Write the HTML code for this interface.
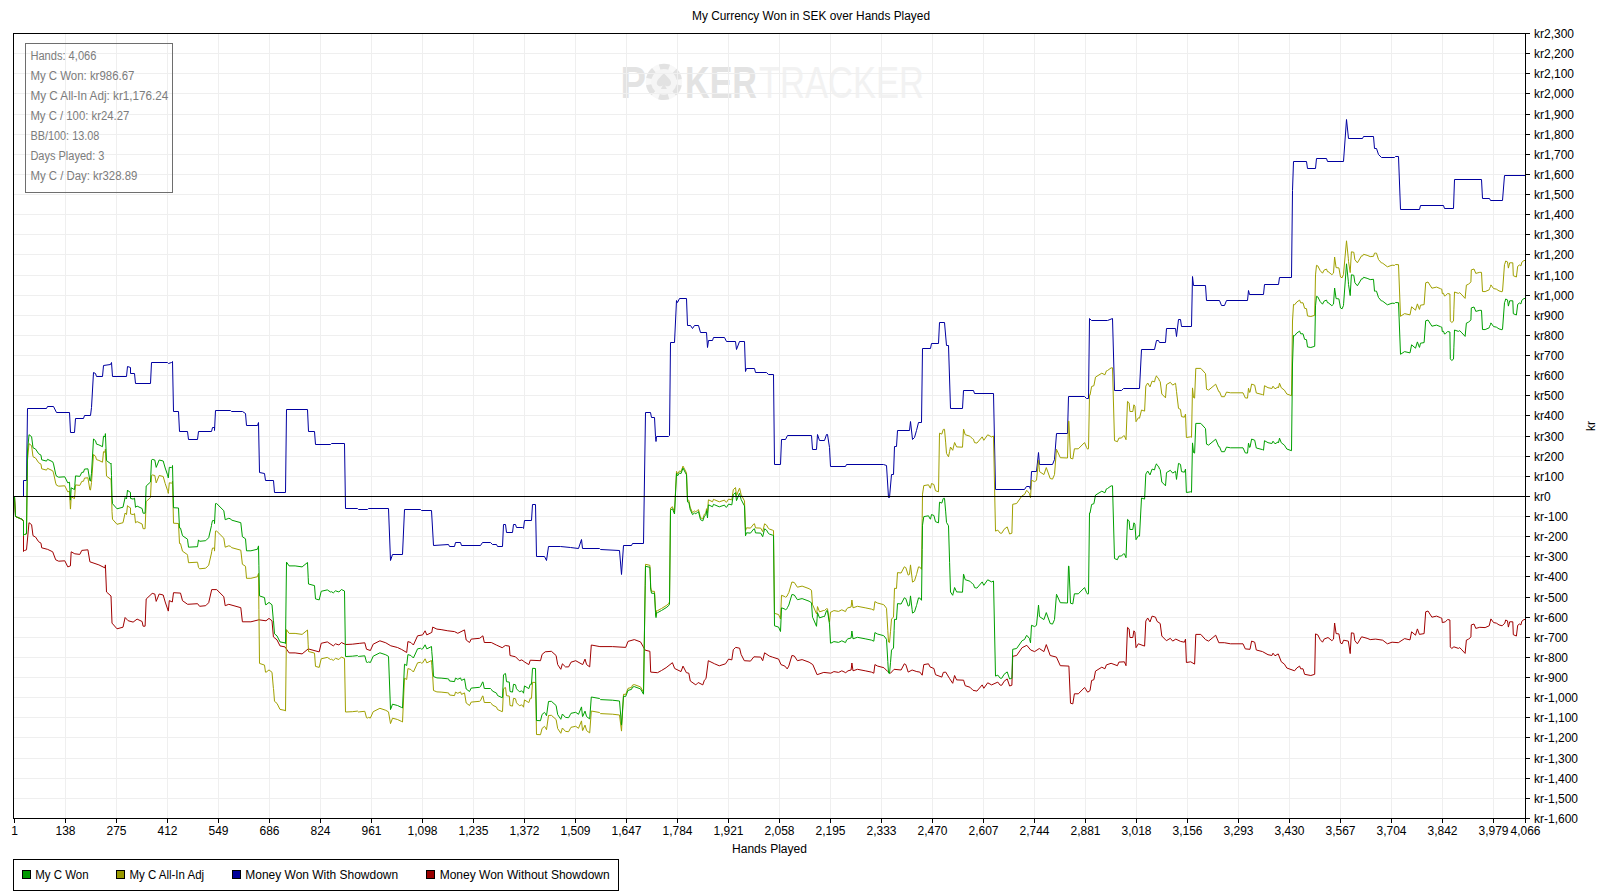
<!DOCTYPE html><html><head><meta charset="utf-8"><style>html,body{margin:0;padding:0;background:#fff;overflow:hidden}svg{display:block}</style></head><body><svg width="1597" height="896" viewBox="0 0 1597 896" shape-rendering="crispEdges">
<g shape-rendering="auto"><text x="620.5" y="98" font-family="Liberation Sans, sans-serif" font-weight="bold" font-size="43.5" fill="#e3e3e3" textLength="25.5" lengthAdjust="spacingAndGlyphs">P</text><text x="685" y="98" font-family="Liberation Sans, sans-serif" font-weight="bold" font-size="43.5" fill="#e3e3e3" textLength="72" lengthAdjust="spacingAndGlyphs">KER</text><g shape-rendering="auto"><circle cx="663.9" cy="81.9" r="15.5" fill="#f5f5f5" stroke="#f8f8f8" stroke-width="5.4"/><circle cx="663.9" cy="81.9" r="15.5" fill="none" stroke="#e2e2e2" stroke-width="5.4" stroke-dasharray="9.74 6.49" stroke-dashoffset="-3.25"/><path d="M663.9 72.9 C660.9 76.9 655.9 79.9 656.9 83.9 C657.9 86.9 661.9 86.9 662.9 84.9 L660.9 88.9 L666.9 88.9 L664.9 84.9 C665.9 86.9 669.9 86.9 670.9 83.9 C671.9 79.9 666.9 76.9 663.9 72.9Z" fill="#e2e2e2"/></g><text x="759" y="98" font-family="Liberation Sans, sans-serif" font-size="43.5" fill="#f2f2f2" textLength="165" lengthAdjust="spacingAndGlyphs">TRACKER</text></g>
<path d="M65.5 34V818M116.5 34V818M167.5 34V818M218.5 34V818M269.5 34V818M320.5 34V818M371.5 34V818M422.5 34V818M473.5 34V818M524.5 34V818M575.5 34V818M626.5 34V818M677.5 34V818M728.5 34V818M779.5 34V818M830.5 34V818M881.5 34V818M932.5 34V818M983.5 34V818M1034.5 34V818M1085.5 34V818M1136.5 34V818M1187.5 34V818M1238.5 34V818M1289.5 34V818M1340.5 34V818M1391.5 34V818M1442.5 34V818M1493.5 34V818M14 798.5H1525M14 778.5H1525M14 758.5H1525M14 737.5H1525M14 717.5H1525M14 697.5H1525M14 677.5H1525M14 657.5H1525M14 637.5H1525M14 617.5H1525M14 597.5H1525M14 576.5H1525M14 556.5H1525M14 536.5H1525M14 516.5H1525M14 476.5H1525M14 456.5H1525M14 436.5H1525M14 415.5H1525M14 395.5H1525M14 375.5H1525M14 355.5H1525M14 335.5H1525M14 315.5H1525M14 295.5H1525M14 275.5H1525M14 254.5H1525M14 234.5H1525M14 214.5H1525M14 194.5H1525M14 174.5H1525M14 154.5H1525M14 134.5H1525M14 114.5H1525M14 93.5H1525M14 73.5H1525M14 53.5H1525" stroke="#efefef" stroke-width="1" fill="none"/>
<rect x="25.5" y="43.5" width="147" height="149" fill="none" stroke="#6e6e6e" stroke-width="1"/>
<g font-family="Liberation Sans, sans-serif" font-size="12" fill="#7c7c7c" shape-rendering="auto"><text x="30.4" y="60" textLength="66" lengthAdjust="spacingAndGlyphs">Hands: 4,066</text><text x="30.4" y="80" textLength="104" lengthAdjust="spacingAndGlyphs">My C Won: kr986.67</text><text x="30.4" y="100" textLength="138" lengthAdjust="spacingAndGlyphs">My C All-In Adj: kr1,176.24</text><text x="30.4" y="120" textLength="99" lengthAdjust="spacingAndGlyphs">My C / 100: kr24.27</text><text x="30.4" y="140" textLength="69" lengthAdjust="spacingAndGlyphs">BB/100: 13.08</text><text x="30.4" y="160" textLength="74" lengthAdjust="spacingAndGlyphs">Days Played: 3</text><text x="30.4" y="180" textLength="107" lengthAdjust="spacingAndGlyphs">My C / Day: kr328.89</text></g>
<path d="M14.5,496.5 15.5,516.5 22.5,519.5 23.5,521.5 23.5,551.5 24.5,550.5 26.5,549.8 29,522.7 31.6,524.7 33,535.7 35.6,537.1 38.6,541.7 41,543.2 41.7,547.8 47.7,549.4 52.7,551.8 55.7,559.8 58.7,561.2 64.8,560.8 67.8,566.9 70.4,565.9 71.2,551.8 74.8,553.8 79.8,554.4 81.8,550.4 87.9,549.8 89.9,561.8 98.9,564.9 105,567.9 105.4,564.9 106.5,592 111,596 112,623.1 117,628.8 123,627.2 125.1,617.5 128.1,620.7 133.1,622.1 137.1,619.1 142.1,621.5 143.1,626.2 145.1,626.2 146.2,599 152.2,593.4 154.8,594 156.2,601.4 159.2,594 163.2,595 165.2,602 168.3,611.1 169.3,600.6 172.3,602 173.5,592.7 180.5,593.1 182.5,600.7 187.6,604.3 197.6,603.7 199.6,606.3 205.7,605.7 208.7,602.7 211.7,589.6 216.7,589.6 223.8,596.7 225.2,605.7 228.8,604.3 240.8,607.7 242.4,621.8 250.9,621.8 258.9,619.8 266,620.8 269,618.4 272,620.8 273.4,636.9 277,639.9 280,645.9 285,646.9 289.1,652.9 295.1,652.9 302.1,653.9 308.2,648.9 319.2,651.9 321.2,643.3 327.3,641.9 333.3,645.9 335.5,643.8 338.9,645 341.4,642.5 345.6,644.5 352.3,644.2 359.8,643.3 364.8,642.8 366.5,649.2 370.4,650.5 373.2,644.2 379.9,640.8 385.8,642.8 390.8,645.8 397.5,647.5 401.7,649.5 406.7,652.5 407.9,641.6 410.9,642.5 413.4,645 417.6,635.8 422.6,634.9 425.1,630.8 426.8,634.9 431.8,632.4 432.7,627.1 436.9,629.1 441.1,629.6 447.8,630.8 454.5,631.6 457.8,633.3 464.5,629.9 466.2,640 469.5,642.5 471.2,639.1 479.6,638.3 482.9,635.8 484.3,642.5 491.3,642.5 496.3,645 502.2,647.7 505.3,645.5 509.3,646.1 510,655.5 515.5,656.8 519.4,660.7 521.8,659.9 524.9,662.2 528.8,664.6 530.3,660.2 540.5,660.7 542.1,654.4 545.2,651.8 551.4,651.3 556.1,655.5 557.7,664.6 560.8,669.3 562.4,663.8 565.5,666.9 568.6,666.9 571,662.2 575.7,660.7 582.7,664.6 585,659.1 586.6,664.6 589.7,666.9 591.3,645 599.9,646.6 612.4,646.6 625.7,647.4 628,641.4 634.3,639.6 640.5,641.9 645.2,650.2 649.9,651.3 650.7,672.1 657.5,672.7 661.5,670.5 666.1,667.7 672.4,662.7 674.7,668.5 681,671.6 683,666.1 686.4,672.7 688.8,673.2 690.3,681 695.8,684.9 698.2,682.5 702.8,684.9 704.4,680.2 706,678.6 708.3,660.7 714.6,663.8 719.3,665.8 725.5,663.8 728.6,659.1 731.8,659.9 733.3,649.7 735.7,647.4 739.6,648.2 741.1,654.4 744.3,660.7 750.5,661.1 753.9,656.8 760.7,657.1 762.7,660.7 764.6,652.8 769.3,656 772.4,657.1 778.6,659.1 781,664.6 784.9,666.1 787.2,668.9 788.8,666.1 791.9,655.5 794.3,656 797.4,660.7 802.1,659.6 809.1,662.2 812.8,664.6 817.1,674.7 823.8,672.4 830.8,673.2 833.9,671.6 838.6,672.4 841.8,670.8 845.7,672.7 848,670.8 851.1,670 851.9,663 853,670.8 857.4,669.3 865.2,670.8 871.4,672.1 873.8,673.2 874.9,664.6 877.7,666.1 883.9,667.7 887.8,671.6 890.5,673.2 894.1,669.3 901.1,670 904.3,663.8 905.8,664.6 908.2,672.1 912.1,670 916.8,671.6 919.9,672.1 922.2,675.2 923.8,664.6 928.5,663.8 930,666.9 933.9,668.5 935.5,674.7 941.8,677.1 943.3,672.4 945.7,672.1 949.6,678.6 952.7,683.3 954.6,675.5 956.6,679.9 963.6,680.2 965.2,685.7 969.9,687.2 973,690.3 976.9,691.1 982.2,684.9 983.8,688.3 987.7,682.8 991.6,684.9 997.8,682.1 1000.2,685.2 1001.8,685.2 1004.1,681.3 1007.2,678.9 1009.6,686 1011.9,685.2 1012.7,656.3 1016.6,655.5 1022.1,647.7 1026.8,645.3 1030.7,650 1034.6,651.6 1039.3,648.5 1043.9,651.6 1046.3,644.6 1050.2,655.5 1056.4,657.1 1060.3,665.7 1068.9,666.1 1070.5,703.2 1072.8,703.9 1074.4,693.8 1078.3,693.8 1084.6,687.5 1087.7,692.2 1090,690.7 1091.6,680.5 1093.9,679.7 1095.5,671.1 1101.8,667.2 1104.9,668.8 1106.4,664.9 1111.1,663.3 1117.4,665.7 1118.9,662.1 1124.4,661.8 1126,665.7 1127.5,627.4 1129.1,628.9 1129.9,637.5 1132.8,637.5 1133.9,630.8 1134.9,632.1 1136,647.7 1138.3,643.8 1144.6,646.1 1145.8,621.1 1147.7,618 1150,621.9 1152.1,616.1 1155.5,617.2 1157.1,621.4 1160.2,623.5 1161.8,636 1166.4,640.7 1170.3,638.3 1172.7,641.1 1175.8,639.1 1180.5,641.4 1184.4,642.2 1185.5,639.1 1186.4,662.5 1190.7,661.8 1194.6,664.1 1195.8,634.4 1200.8,634.4 1205.5,639.6 1208.6,641.1 1215.7,635.2 1218.8,642.7 1224.3,642.7 1230.5,643.8 1243,643.8 1245.3,648.9 1250,649.3 1251.6,641.1 1254.7,642.2 1256.3,650 1262.5,651.6 1268,654.7 1271.9,655.5 1273,653.2 1275,655.8 1278.2,653.9 1281.3,661.8 1284.4,664.1 1286.8,668 1294.6,670.8 1296.8,668 1299.6,666.1 1300.7,668.8 1303,668.8 1304.6,674.3 1310.8,675.5 1314.7,674.3 1315.5,633.9 1317.8,634.9 1320.2,639.6 1322.5,642.2 1324.1,639.1 1328,637.5 1331.9,640.7 1333.5,639.1 1334.6,623 1336.1,633.6 1338.9,633.9 1340.5,643 1342.1,643.8 1343.6,640.2 1348.3,641.1 1350.2,653.6 1351.4,632.8 1353.8,633.3 1354.9,640.7 1357.4,643.8 1361.6,636.8 1367.1,638.3 1370.2,639.6 1375.7,639.1 1382.7,640.2 1387.4,643.8 1392.1,642.2 1398.3,642.7 1404.6,638.6 1410,639.9 1411.6,631.8 1415.5,635.2 1417.4,628.9 1419.4,634.4 1424.1,633.6 1425.7,611.8 1428,611 1431.9,617.2 1436.6,616.1 1440.5,617.7 1441.8,618.2 1442.3,622.6 1445.4,621.8 1447.6,619.5 1449.9,620 1450.3,646.8 1451.7,648.5 1453.9,646.8 1458.4,648.4 1459.7,647.6 1461.9,649.9 1465.1,653.4 1466.4,640.1 1468.6,639.2 1470.9,636.9 1471.3,624.9 1474,624 1475.8,628.4 1479.8,627.3 1485.1,627.6 1489.2,625.8 1490.9,618.9 1493.6,622.6 1496.3,623.1 1499,624.9 1502.1,625.8 1504.8,623.1 1505.7,620 1507.5,620.9 1508.4,627.1 1509.7,621.8 1512.8,621.8 1513.3,634.7 1516.4,636 1517.7,625.3 1519.5,624 1520.9,624.9 1521.8,621.3 1524,619.5 1525.5,619.5" stroke="#a00000" stroke-width="1" fill="none" stroke-linejoin="round" shape-rendering="auto"/>
<path d="M14.5,496.5 23.5,496.5 23.5,480.5 26.5,480.5 27.5,408.5 46.5,408.5 47.5,406.5 53.5,406.5 56.5,412.5 69.5,412.5 70.5,432.5 74.5,432.5 75.5,418.5 83.5,418.5 84.5,415.5 90.5,415.5 91.5,407.5 93.5,372.5 95.5,373.5 96.5,376.5 102.5,376.5 103.5,365.5 110.5,364.5 111.5,362.5 112.5,376.5 126.5,376.5 127.5,366.5 130.5,367.5 130.5,373.5 134.5,373.5 135.5,383.5 150.5,383.5 151.5,362.5 167.5,362.5 168.5,363.5 171.5,362.5 172.5,361.5 173.5,411.5 178.5,411.5 179.5,431.5 187.5,431.5 188.5,439.5 197.5,439.5 198.5,431.5 211.5,431.5 212.5,427.5 214.5,427.5 214.5,430.5 215.5,410.5 230.5,410.5 231.5,411.5 242.5,411.5 245.5,413.5 246.5,425.5 257.5,425.5 258.5,422.5 259.5,472.5 264.5,473.5 265.5,480.5 273.5,480.5 274.5,492.5 285.5,492.5 286.5,409.5 307.5,409.5 308.5,431.5 314.5,431.5 315.5,444.5 330.5,444.5 331.5,443.5 344.5,443.5 345.5,508.5 357.5,508.5 358.5,509.5 367.5,509.5 368.5,508.5 388.5,508.5 390.5,560.5 392.5,554.5 402.5,554.5 404.5,509.5 420.5,509.5 421.5,510.5 431.5,510.5 433.5,545.5 448.5,544.5 449.5,546.5 454.5,546.5 455.5,542.5 460.5,542.5 461.5,545.5 480.5,545.5 482.5,542.5 490.5,542.5 492.5,544.5 496.5,544.5 497.5,546.5 502.5,546.5 503.5,524.5 505.5,524.5 506.5,532.5 512.5,532.5 513.5,524.5 515.5,524.5 516.5,527.5 522.5,527.5 523.5,528.5 524.5,520.5 531.5,520.5 532.5,504.5 535.5,504.5 536.5,556.5 544.5,556.5 546.5,560.5 548.5,546.5 560.5,546.5 570.5,547.5 578.5,548.5 581.5,539.5 582.5,548.5 599.5,548.5 600.5,549.5 619.5,550.5 621.5,574.5 623.5,545.5 631.5,545.5 632.5,543.5 643.5,543.5 645.5,412.5 650.5,412.5 651.5,417.5 654.5,417.5 655.5,436.5 656,441.5 656.5,436.5 668.5,436.5 669.5,435.5 670.5,342.5 674.5,342.5 676.5,300.5 677.5,302.5 679.5,298.5 686.5,298.5 687.5,325.5 690.5,325.5 692.5,328.5 694.5,325.5 698.5,325.5 700.5,332.5 706.5,332.5 707.5,347.5 708.5,340.5 712.5,340.5 713.5,337.5 724.5,337.5 726.5,341.5 735.5,341.5 736.5,349.5 739.5,341.5 744.5,341.5 745.5,371.5 746.5,368.5 754.5,368.5 755.5,372.5 766.5,372.5 768.5,374.5 773.5,374.5 774.5,464.5 780.5,464.5 781.5,439.5 785.5,439.5 787.5,435.5 811.5,435.5 812.5,449.5 816.5,449.5 817.5,434.5 819.5,440.5 824.5,440.5 826.5,434.5 827.5,434.5 829.5,447.5 830.5,466.5 845.5,466.5 846.5,464.5 883.5,464.5 886.5,465.5 888.5,497.5 889.5,497.5 891.5,474.5 893.5,474.5 894.5,446.5 896.5,446.5 897.5,430.5 909.5,430.5 910.5,421.5 912.5,439.5 914.5,437.5 916.5,430.5 918.5,422.5 921.5,422.5 922.5,348.5 930.5,348.5 931.5,343.5 938.5,343.5 939.5,322.5 944.5,322.5 946.5,345.5 948.5,345.5 950.5,408.5 962.5,408.5 963.5,390.5 973.5,390.5 974.5,393.5 993.5,393.5 995.5,489.5 1024.5,489.5 1026.5,486.5 1029.5,486.5 1030.5,489.5 1031.5,471.5 1036.5,471.5 1038.5,452.5 1039.5,464.5 1052.5,464.5 1054.5,459.5 1056.5,433.5 1067.5,433.5 1068.5,396.5 1084.5,396.5 1086.5,398.5 1088.5,398.5 1089.5,318.5 1091.5,320.5 1107.5,320.5 1112.5,318.5 1114.5,390.5 1121.5,390.5 1123.5,388.5 1139.5,388.5 1141.5,349.5 1154.5,349.5 1156.5,340.5 1158.5,340.5 1159.5,342.5 1165.5,342.5 1166.5,328.5 1175.5,328.5 1176.5,336.5 1178.5,319.5 1180.5,319.5 1181.5,326.5 1191.5,326.5 1192.5,276.5 1193.5,285.5 1205.5,285.5 1206.5,300.5 1219.5,300.5 1221.5,305.5 1224.5,305.5 1226.5,300.5 1247.5,300.5 1248.5,290.5 1249.5,294.5 1263.5,294.5 1264.5,284.5 1278.5,284.5 1279.5,277.5 1291.5,277.5 1292.5,190.5 1293.5,161.5 1306.5,161.5 1307.5,168.5 1315.5,168.5 1316.5,158.5 1326.5,158.5 1327.5,161.5 1343.5,161.5 1346.5,119.5 1348.5,138.5 1362.5,138.5 1363.5,136.5 1373.5,136.5 1374.5,148.5 1376.5,148.5 1378.5,154.5 1381.5,157.5 1394.5,157.5 1395.5,156.5 1398.5,156.5 1400.5,209.5 1419.5,209.5 1420.5,205.5 1443.5,205.5 1444.5,208.5 1453.5,208.5 1454.5,179.5 1481.5,179.5 1482.5,198.5 1489.5,198.5 1490.5,200.5 1502.5,200.5 1504.5,175.5 1525.5,175.5" stroke="#0000a0" stroke-width="1" fill="none" stroke-linejoin="round" shape-rendering="auto"/>
<path d="M14.5,496.5 15.5,516.5 22.5,519.5 23.5,521.5 23.5,535.5 24.5,534.5 26.5,533.8 27.5,460 29,443.7 31.6,445.7 33,456.7 35.6,458.1 38.6,462.7 41,464.2 41.7,468.8 46.5,470.1 47.5,468.3 47.7,468.4 52.7,470.8 53.5,472.9 55.7,483.2 56.5,485.2 58.7,486.2 64.8,485.8 67.8,491.9 69.5,491.2 70.4,508.9 70.5,509.1 71.2,496.8 74.5,498.6 74.8,494.6 75.5,484.9 79.8,485.4 81.8,481.4 83.5,481.2 84.5,478.1 87.9,477.8 89.9,489.8 90.5,490 91.5,482.4 93.5,454.5 95.5,456.2 96.5,459.6 98.9,460.4 102.5,462.2 103.5,451.7 105,452.2 105.4,449.1 106.5,476.1 110.5,479.1 111,478.5 111.5,491 112,511.6 112.5,519.2 117,524.3 123,522.7 125.1,513 126.5,514.5 127.5,505.6 128.1,506.4 130.5,507.9 130.5,513.9 133.1,514.6 134.5,513.6 135.5,522.8 137.1,521.6 142.1,524 143.1,528.7 145.1,528.7 146.2,501.5 150.5,497.5 151.5,475.6 152.2,474.9 154.8,475.5 156.2,482.9 159.2,475.5 163.2,476.5 165.2,483.5 167.5,490.3 168.3,493.4 168.5,491.5 169.3,482.8 171.5,483.1 172.3,482.7 172.5,481 173.5,523.2 178.5,523.5 179.5,543.5 180.5,543.6 182.5,551.2 187.5,554.7 187.6,555.6 188.5,562.7 197.5,562.2 197.6,562.6 198.5,567.4 199.6,568.8 205.7,568.2 208.7,565.2 211.5,553 211.7,551.3 212.5,548.1 214.5,548.1 214.5,551.1 215.5,531.1 216.7,531.1 223.8,538.2 225.2,547.2 228.8,545.8 230.5,546.3 231.5,547.6 240.8,550.2 242.4,564.3 242.5,564.3 245.5,566.3 246.5,578.3 250.9,578.3 257.5,576.7 258.5,573.4 258.9,609.3 259.5,663.4 264.5,665.1 265.5,672.2 266,672.3 269,669.9 272,672.3 273.4,688.4 273.5,688.5 274.5,701.3 277,703.4 280,709.4 285,710.4 285.5,711.1 286.5,629.6 289.1,633.4 295.1,633.4 302.1,634.4 307.5,630 308.2,644.8 308.5,651.5 314.5,653.1 315.5,666.4 319.2,667.4 321.2,658.8 327.3,657.4 330.5,659.5 331.5,659.2 333.3,660.4 335.5,658.3 338.9,659.5 341.4,657 344.5,658.5 345.5,712 345.6,712 352.3,711.7 357.5,711.1 358.5,712 359.8,711.8 364.8,711.3 366.5,717.7 367.5,718 368.5,717.4 370.4,718 373.2,711.7 379.9,708.3 385.8,710.3 388.5,711.9 390.5,723.6 390.8,722.9 392.5,718.2 397.5,719.5 401.7,721.5 402.5,722 404.5,678.2 406.7,679.5 407.9,668.6 410.9,669.5 413.4,672 417.6,662.8 420.5,662.3 421.5,663.1 422.6,662.9 425.1,658.8 426.8,662.9 431.5,660.5 431.8,665.7 432.7,676.1 433.5,690.5 436.9,691.9 441.1,692.1 447.8,692.8 448.5,692.9 449.5,695 454.5,695.6 455.5,692.1 457.8,693.3 460.5,691.9 461.5,694.4 464.5,692.9 466.2,703 469.5,705.5 471.2,702.1 479.6,701.3 480.5,700.6 482.5,696.1 482.9,695.8 484.3,702.5 490.5,702.5 491.3,703.3 492.5,705.1 496.3,707 496.5,707.1 497.5,709.5 502.2,711.7 502.5,711.5 503.5,688.8 505.3,687.5 505.5,687.5 506.5,695.7 509.3,696.1 510,705.5 512.5,706.1 513.5,698.3 515.5,698.8 516.5,702.8 519.4,705.7 521.8,704.9 522.5,705.4 523.5,707.2 524.5,699.9 524.9,700.2 528.8,702.6 530.3,698.2 531.5,698.3 532.5,682.3 535.5,682.5 536.5,734.5 540.5,734.7 542.1,728.4 544.5,726.4 545.2,727.2 546.5,729.7 548.5,715.5 551.4,715.3 556.1,719.5 557.7,728.6 560.5,732.8 560.8,733.3 562.4,728 565.5,731.4 568.6,731.7 570.5,728.2 571,727.3 575.7,726.3 578.5,728.3 581.5,720.9 582.5,730.5 582.7,730.6 585,725.1 586.6,730.6 589.7,732.9 591.3,711 599.5,712.5 599.9,713 600.5,713.6 612.4,714.2 619.5,715 621.5,731.1 623.5,694.3 625.7,694.4 628,688.4 631.5,687.4 632.5,685.1 634.3,684.6 640.5,686.9 643.5,692.2 645.2,583.8 645.5,564.3 649.9,565.3 650.5,580.9 650.7,587.1 651.5,591.2 654.5,591.4 655.5,610.5 656,615.6 656.5,610.6 657.5,610.7 661.5,608.5 666.1,605.7 668.5,603.8 669.5,602 670.5,508.2 672.4,506.7 674.5,512 674.7,508.3 676.5,471.4 677.5,473.9 679.5,470.9 681,471.6 683,466.1 686.4,472.7 686.5,472.7 687.5,499.9 688.8,500.2 690.3,508 690.5,508.1 692.5,512.6 694.5,511 695.8,511.9 698.2,509.5 698.5,509.7 700.5,517.7 702.8,518.9 704.4,514.2 706,512.6 706.5,508.7 707.5,512.9 708.3,501.1 708.5,499.8 712.5,501.8 713.5,499.3 714.6,499.8 719.3,501.8 724.5,500.1 725.5,501.8 726.5,502.3 728.6,499.1 731.8,499.9 733.3,489.7 735.5,487.6 735.7,489 736.5,495.6 739.5,488.2 739.6,488.2 741.1,494.4 744.3,500.7 744.5,500.7 745.5,530.8 746.5,527.8 750.5,528.1 753.9,523.8 754.5,523.8 755.5,527.9 760.7,528.1 762.7,531.7 764.6,523.8 766.5,525.1 768.5,528.5 769.3,529 772.4,530.1 773.5,530.5 774.5,613.3 778.6,614.6 780.5,619 781,607.6 781.5,595.3 784.9,596.6 785.5,597.3 787.2,596 787.5,594.9 788.8,592.6 791.9,582 794.3,582.5 797.4,587.2 802.1,586.1 809.1,588.7 811.5,590.3 812.5,604.9 812.8,605.1 816.5,613.8 817.1,610.1 817.5,606.6 819.5,611.9 823.8,610.4 824.5,610.5 826.5,608.7 827.5,608.8 829.5,622.1 830.5,612.2 830.8,612.2 833.9,610.6 838.6,611.4 841.8,609.8 845.5,611.6 845.7,611.3 846.5,609 848,607.8 851.1,607 851.9,600 853,607.8 857.4,606.3 865.2,607.8 871.4,609.1 873.8,610.2 874.9,601.6 877.7,603.1 883.5,604.6 883.9,604.8 886.5,608.3 887.8,630.4 888.5,642 889.5,642.6 890.5,631.7 891.5,619.1 893.5,617 894.1,599.5 894.5,588.3 896.5,588.5 897.5,572.6 901.1,573 904.3,566.8 905.8,567.6 908.2,575.1 909.5,574.4 910.5,564.9 912.1,578.4 912.5,582.1 914.5,580.8 916.5,574.5 916.8,573.4 918.5,566.9 919.9,567.1 921.5,569.3 922.2,518.4 922.5,494.2 923.8,485.6 928.5,484.8 930,487.9 930.5,488.1 931.5,483.5 933.9,484.5 935.5,490.7 938.5,491.8 939.5,433.2 941.8,434.1 943.3,429.4 944.5,429.3 945.7,442.9 946.5,453.4 948.5,456.8 949.6,451.5 950.5,447 952.7,450.3 954.6,442.5 956.6,446.9 962.5,447.2 963.5,429.2 963.6,429.2 965.2,434.7 969.9,436.2 973,439.3 973.5,439.4 974.5,442.6 976.9,443.1 982.2,436.9 983.8,440.3 987.7,434.8 991.6,436.9 993.5,436 995.5,531.1 997.8,530.1 1000.2,533.2 1001.8,533.2 1004.1,529.3 1007.2,526.9 1009.6,534 1011.9,533.2 1012.7,504.3 1016.6,503.5 1022.1,495.7 1024.5,494.5 1026.5,490.5 1026.8,490.3 1029.5,493.6 1030.5,497.8 1030.7,494.4 1031.5,480.3 1034.6,481.6 1036.5,480.3 1038.5,460 1039.3,469.1 1039.5,471.6 1043.9,474.6 1046.3,467.6 1050.2,478.5 1052.5,479.1 1054.5,474.6 1056.4,450.4 1056.5,449.3 1060.3,457.7 1067.5,458 1068.5,421.1 1068.9,421.1 1070.5,458.2 1072.8,458.9 1074.4,448.8 1078.3,448.8 1084.5,442.6 1084.6,442.6 1086.5,447.4 1087.7,449.2 1088.5,448.7 1089.5,395 1090,395.2 1091.5,387.1 1091.6,386.5 1093.9,385.7 1095.5,377.1 1101.8,373.2 1104.9,374.8 1106.4,370.9 1107.5,370.5 1111.1,367.9 1112.5,367.8 1114.5,440.6 1117.4,441.7 1118.9,438.1 1121.5,438 1123.5,435.8 1124.4,435.8 1126,439.7 1127.5,401.4 1129.1,402.9 1129.9,411.5 1132.8,411.5 1133.9,404.8 1134.9,406.1 1136,421.7 1138.3,417.8 1139.5,418.2 1141.5,410 1144.6,411.1 1145.8,386.1 1147.7,383 1150,386.9 1152.1,381.1 1154.5,381.9 1155.5,377.7 1156.5,375.8 1157.1,377.4 1158.5,378.3 1159.5,381 1160.2,381.5 1161.8,394 1165.5,397.8 1166.4,386.1 1166.5,384.6 1170.3,382.3 1172.7,385.1 1175.5,383.3 1175.8,385.5 1176.5,391.4 1178.5,408.4 1180.5,409.4 1181.5,416.6 1184.4,417.2 1185.5,414.1 1186.4,437.5 1190.7,436.8 1191.5,437.3 1192.5,387.9 1193.5,397.5 1194.6,398.1 1195.8,368.4 1200.8,368.4 1205.5,373.6 1206.5,389.1 1208.6,390.1 1215.7,384.2 1218.8,391.7 1219.5,391.7 1221.5,396.7 1224.3,396.7 1224.5,396.7 1226.5,392.1 1230.5,392.8 1243,392.8 1245.3,397.9 1247.5,398.1 1248.5,388.2 1249.5,392.3 1250,392.3 1251.6,384.1 1254.7,385.2 1256.3,393 1262.5,394.6 1263.5,395.2 1264.5,385.7 1268,387.7 1271.9,388.5 1273,386.2 1275,388.8 1278.2,386.9 1278.5,387.7 1279.5,383.2 1281.3,387.8 1284.4,390.1 1286.8,394 1291.5,395.7 1292.5,321 1293.5,304.4 1294.6,304.8 1296.8,302 1299.6,300.1 1300.7,302.8 1303,302.8 1304.6,308.3 1306.5,308.7 1307.5,315.9 1310.8,316.5 1314.7,315.3 1315.5,274.9 1316.5,265.3 1317.8,265.9 1320.2,270.6 1322.5,273.2 1324.1,270.1 1326.5,269.1 1327.5,271.7 1328,271.5 1331.9,274.7 1333.5,273.1 1334.6,257 1336.1,267.6 1338.9,267.9 1340.5,277 1342.1,277.8 1343.5,274.4 1343.6,273.1 1346.5,240.8 1348.3,258.2 1348.5,261.4 1350.2,272.6 1351.4,251.8 1353.8,252.3 1354.9,259.7 1357.4,262.8 1361.6,255.8 1362.5,256 1363.5,254.3 1367.1,255.3 1370.2,256.6 1373.5,256.3 1374.5,253.2 1375.7,253.1 1376.5,253.2 1378.5,259.5 1381.5,263 1382.7,263.2 1387.4,266.8 1392.1,265.2 1394.5,265.4 1395.5,264.5 1398.3,264.7 1398.5,264.6 1400.5,316.3 1404.6,313.6 1410,314.9 1411.6,306.8 1415.5,310.2 1417.4,303.9 1419.4,309.4 1419.5,309.4 1420.5,305.2 1424.1,304.6 1425.7,282.8 1428,282 1431.9,288.2 1436.6,287.1 1440.5,288.7 1441.8,289.2 1442.3,293.6 1443.5,293.3 1444.5,296 1445.4,295.8 1447.6,293.5 1449.9,294 1450.3,320.8 1451.7,322.5 1453.5,321.1 1453.9,309.2 1454.5,292 1458.4,293.4 1459.7,292.6 1461.9,294.9 1465.1,298.4 1466.4,285.1 1468.6,284.2 1470.9,281.9 1471.3,269.9 1474,269 1475.8,273.4 1479.8,272.3 1481.5,272.4 1482.5,291.5 1485.1,291.6 1489.2,289.8 1489.5,288.6 1490.5,286.5 1490.9,284.9 1493.6,288.6 1496.3,289.1 1499,290.9 1502.1,291.8 1502.5,291.4 1504.5,264.4 1504.8,264.1 1505.7,261 1507.5,261.9 1508.4,268.1 1509.7,262.8 1512.8,262.8 1513.3,275.7 1516.4,277 1517.7,266.3 1519.5,265 1520.9,265.9 1521.8,262.3 1524,260.5 1525.5,260.5" stroke="#a0a000" stroke-width="1" fill="none" stroke-linejoin="round" shape-rendering="auto"/>
<path d="M14.5,496.5 15.5,516.5 22.5,519.5 23.5,521.5 23.5,535.5 24.5,534.5 26.5,533.8 27.5,451 29,434.7 31.6,436.7 33,447.7 35.6,449.1 38.6,453.7 41,455.2 41.7,459.8 46.5,461.1 47.5,459.3 47.7,459.4 52.7,461.8 53.5,463.9 55.7,474.2 56.5,476.2 58.7,477.2 64.8,476.8 67.8,482.9 69.5,482.2 70.4,499.9 70.5,500.1 71.2,487.8 74.5,489.6 74.8,485.6 75.5,475.9 79.8,476.4 81.8,472.4 83.5,472.2 84.5,469.1 87.9,468.8 89.9,480.8 90.5,481 91.5,473.4 93.5,439 95.5,440.7 96.5,444.1 98.9,444.9 102.5,446.7 103.5,436.2 105,436.7 105.4,433.6 106.5,460.6 110.5,463.6 111,463 111.5,475.5 112,496.1 112.5,503.7 117,508.8 123,507.2 125.1,497.5 126.5,499 127.5,490.1 128.1,490.9 130.5,492.4 130.5,498.4 133.1,499.1 134.5,498.1 135.5,507.3 137.1,506.1 142.1,508.5 143.1,513.2 145.1,513.2 146.2,486 150.5,482 151.5,460.1 152.2,459.4 154.8,460 156.2,467.4 159.2,460 163.2,461 165.2,468 167.5,474.8 168.3,477.9 168.5,476 169.3,467.3 171.5,467.6 172.3,467.2 172.5,465.5 173.5,507.7 178.5,508 179.5,528 180.5,528.1 182.5,535.7 187.5,539.2 187.6,540.1 188.5,547.2 197.5,546.7 197.6,545.9 198.5,539.9 199.6,541.3 205.7,540.7 208.7,537.7 211.5,525.5 211.7,523.8 212.5,520.6 214.5,520.6 214.5,523.6 215.5,503.6 216.7,503.6 223.8,510.7 225.2,519.7 228.8,518.3 230.5,518.8 231.5,520.1 240.8,522.7 242.4,536.8 242.5,536.8 245.5,538.8 246.5,550.8 250.9,550.8 257.5,549.2 258.5,545.9 258.9,565.8 259.5,595.9 264.5,597.6 265.5,604.7 266,604.8 269,602.4 272,604.8 273.4,620.9 273.5,621 274.5,633.8 277,635.9 280,641.9 285,642.9 285.5,643.6 286.5,562.1 289.1,565.9 295.1,565.9 302.1,566.9 307.5,562.5 308.2,577.3 308.5,584 314.5,585.6 315.5,598.9 319.2,599.9 321.2,591.3 327.3,589.9 330.5,592 331.5,591.7 333.3,592.9 335.5,590.8 338.9,592 341.4,589.5 344.5,591 345.5,656.5 345.6,656.5 352.3,656.2 357.5,655.6 358.5,656.5 359.8,656.3 364.8,655.8 366.5,662.2 367.5,662.5 368.5,661.9 370.4,662.5 373.2,656.2 379.9,652.8 385.8,654.8 388.5,656.4 390.5,709.6 390.8,708.9 392.5,704.2 397.5,705.5 401.7,707.5 402.5,708 404.5,664.2 406.7,665.5 407.9,654.6 410.9,655.5 413.4,658 417.6,648.8 420.5,648.3 421.5,649.1 422.6,648.9 425.1,644.8 426.8,648.9 431.5,646.5 431.8,651.7 432.7,662.1 433.5,676.5 436.9,677.9 441.1,678.1 447.8,678.8 448.5,678.9 449.5,681 454.5,681.6 455.5,678.1 457.8,679.3 460.5,677.9 461.5,680.4 464.5,678.9 466.2,689 469.5,691.5 471.2,688.1 479.6,687.3 480.5,686.6 482.5,682.1 482.9,681.8 484.3,688.5 490.5,688.5 491.3,689.3 492.5,691.1 496.3,693 496.5,693.1 497.5,695.5 502.2,697.7 502.5,697.5 503.5,674.8 505.3,673.5 505.5,673.5 506.5,681.7 509.3,682.1 510,691.5 512.5,692.1 513.5,684.3 515.5,684.8 516.5,688.8 519.4,691.7 521.8,690.9 522.5,691.4 523.5,693.2 524.5,685.9 524.9,686.2 528.8,688.6 530.3,684.2 531.5,684.3 532.5,668.3 535.5,668.5 536.5,720.5 540.5,720.7 542.1,714.4 544.5,712.4 545.2,713.2 546.5,715.7 548.5,701.5 551.4,701.3 556.1,705.5 557.7,714.6 560.5,718.8 560.8,719.3 562.4,714 565.5,717.4 568.6,717.7 570.5,714.2 571,713.3 575.7,712.3 578.5,714.3 581.5,706.9 582.5,716.5 582.7,716.6 585,711.1 586.6,716.6 589.7,718.9 591.3,697 599.5,698.5 599.9,699 600.5,699.6 612.4,700.2 619.5,701 621.5,725.1 623.5,696.3 625.7,696.4 628,690.4 631.5,689.4 632.5,687.1 634.3,686.6 640.5,688.9 643.5,694.2 645.2,585.8 645.5,566.3 649.9,567.3 650.5,582.9 650.7,589.1 651.5,593.2 654.5,593.4 655.5,612.5 656,617.6 656.5,612.6 657.5,612.7 661.5,610.5 666.1,607.7 668.5,605.8 669.5,604 670.5,510.2 672.4,508.7 674.5,514 674.7,510.3 676.5,473.4 677.5,475.9 679.5,472.9 681,473.6 683,468.1 686.4,474.7 686.5,474.7 687.5,501.9 688.8,502.2 690.3,510 690.5,510.1 692.5,514.6 694.5,513 695.8,513.9 698.2,511.5 698.5,511.7 700.5,519.7 702.8,520.9 704.4,516.2 706,514.6 706.5,510.7 707.5,517.9 708.3,506.1 708.5,504.8 712.5,506.8 713.5,504.3 714.6,504.8 719.3,506.8 724.5,505.1 725.5,506.8 726.5,507.3 728.6,504.1 731.8,504.9 733.3,494.7 735.5,492.6 735.7,494 736.5,500.6 739.5,493.2 739.6,493.2 741.1,499.4 744.3,505.7 744.5,505.7 745.5,535.8 746.5,532.8 750.5,533.1 753.9,528.8 754.5,528.8 755.5,532.9 760.7,533.1 762.7,536.7 764.6,528.8 766.5,530.1 768.5,533.5 769.3,534 772.4,535.1 773.5,535.5 774.5,625.8 778.6,627.1 780.5,631.5 781,620.1 781.5,607.8 784.9,609.1 785.5,609.8 787.2,608.5 787.5,607.4 788.8,605.1 791.9,594.5 794.3,595 797.4,599.7 802.1,598.6 809.1,601.2 811.5,602.8 812.5,617.4 812.8,617.6 816.5,626.3 817.1,618.7 817.5,612.6 819.5,617.9 823.8,616.4 824.5,616.5 826.5,610.7 827.5,610.8 829.5,624.1 830.5,643.2 830.8,643.2 833.9,641.6 838.6,642.4 841.8,640.8 845.5,642.6 845.7,642.3 846.5,640 848,638.8 851.1,638 851.9,631 853,638.8 857.4,637.3 865.2,638.8 871.4,640.1 873.8,641.2 874.9,632.6 877.7,634.1 883.5,635.6 883.9,635.8 886.5,639.3 887.8,661.4 888.5,673 889.5,673.6 890.5,662.7 891.5,650.1 893.5,648 894.1,630.5 894.5,619.3 896.5,619.5 897.5,603.6 901.1,604 904.3,597.8 905.8,598.6 908.2,606.1 909.5,605.4 910.5,595.9 912.1,609.4 912.5,613.1 914.5,611.8 916.5,605.5 916.8,604.4 918.5,597.9 919.9,598.1 921.5,600.3 922.2,549.4 922.5,525.2 923.8,516.6 928.5,515.8 930,518.9 930.5,519.1 931.5,514.5 933.9,515.5 935.5,521.7 938.5,522.8 939.5,502.2 941.8,503.1 943.3,498.4 944.5,498.3 945.7,511.9 946.5,522.4 948.5,525.8 949.6,562.3 950.5,592 952.7,595.3 954.6,587.5 956.6,591.9 962.5,592.2 963.5,574.2 963.6,574.2 965.2,579.7 969.9,581.2 973,584.3 973.5,584.4 974.5,587.6 976.9,588.1 982.2,581.9 983.8,585.3 987.7,579.8 991.6,581.9 993.5,581 995.5,676.1 997.8,675.1 1000.2,678.2 1001.8,678.2 1004.1,674.3 1007.2,671.9 1009.6,679 1011.9,678.2 1012.7,649.3 1016.6,648.5 1022.1,640.7 1024.5,639.5 1026.5,635.5 1026.8,635.3 1029.5,638.6 1030.5,642.8 1030.7,639.4 1031.5,625.3 1034.6,626.6 1036.5,625.3 1038.5,605 1039.3,614.1 1039.5,616.6 1043.9,619.6 1046.3,612.6 1050.2,623.5 1052.5,624.1 1054.5,619.6 1056.4,595.4 1056.5,594.3 1060.3,602.7 1067.5,603 1068.5,566.1 1068.9,566.1 1070.5,603.2 1072.8,603.9 1074.4,593.8 1078.3,593.8 1084.5,587.6 1084.6,587.6 1086.5,592.4 1087.7,594.2 1088.5,593.7 1089.5,513 1090,513.2 1091.5,505.1 1091.6,504.5 1093.9,503.7 1095.5,495.1 1101.8,491.2 1104.9,492.8 1106.4,488.9 1107.5,488.5 1111.1,485.9 1112.5,485.8 1114.5,558.6 1117.4,559.7 1118.9,556.1 1121.5,556 1123.5,553.8 1124.4,553.8 1126,557.7 1127.5,519.4 1129.1,520.9 1129.9,529.5 1132.8,529.5 1133.9,522.8 1134.9,524.1 1136,539.7 1138.3,535.8 1139.5,536.2 1141.5,498 1144.6,499.1 1145.8,474.1 1147.7,471 1150,474.9 1152.1,469.1 1154.5,469.9 1155.5,465.7 1156.5,463.8 1157.1,465.4 1158.5,466.3 1159.5,469 1160.2,469.5 1161.8,482 1165.5,485.8 1166.4,474.1 1166.5,472.6 1170.3,470.3 1172.7,473.1 1175.5,471.3 1175.8,473.5 1176.5,479.4 1178.5,463.4 1180.5,464.4 1181.5,471.6 1184.4,472.2 1185.5,469.1 1186.4,492.5 1190.7,491.8 1191.5,492.3 1192.5,442.9 1193.5,452.5 1194.6,453.1 1195.8,423.4 1200.8,423.4 1205.5,428.6 1206.5,444.1 1208.6,445.1 1215.7,439.2 1218.8,446.7 1219.5,446.7 1221.5,451.7 1224.3,451.7 1224.5,451.7 1226.5,447.1 1230.5,447.8 1243,447.8 1245.3,452.9 1247.5,453.1 1248.5,443.2 1249.5,447.3 1250,447.3 1251.6,439.1 1254.7,440.2 1256.3,448 1262.5,449.6 1263.5,450.2 1264.5,440.7 1268,442.7 1271.9,443.5 1273,441.2 1275,443.8 1278.2,441.9 1278.5,442.7 1279.5,438.2 1281.3,442.8 1284.4,445.1 1286.8,449 1291.5,450.7 1292.5,364 1293.5,335.4 1294.6,335.8 1296.8,333 1299.6,331.1 1300.7,333.8 1303,333.8 1304.6,339.3 1306.5,339.7 1307.5,346.9 1310.8,347.5 1314.7,346.3 1315.5,305.9 1316.5,296.3 1317.8,296.9 1320.2,301.6 1322.5,304.2 1324.1,301.1 1326.5,300.1 1327.5,302.7 1328,302.5 1331.9,305.7 1333.5,304.1 1334.6,288 1336.1,298.6 1338.9,298.9 1340.5,308 1342.1,308.8 1343.5,305.4 1343.6,303.8 1346.5,263.8 1348.3,281.2 1348.5,284.4 1350.2,295.6 1351.4,274.8 1353.8,275.3 1354.9,282.7 1357.4,285.8 1361.6,278.8 1362.5,279 1363.5,277.3 1367.1,278.3 1370.2,279.6 1373.5,279.3 1374.5,291.2 1375.7,291.1 1376.5,291.2 1378.5,297.5 1381.5,301 1382.7,301.2 1387.4,304.8 1392.1,303.2 1394.5,303.4 1395.5,302.5 1398.3,302.7 1398.5,302.6 1400.5,354.3 1404.6,351.6 1410,352.9 1411.6,344.8 1415.5,348.2 1417.4,341.9 1419.4,347.4 1419.5,347.4 1420.5,343.2 1424.1,342.6 1425.7,320.8 1428,320 1431.9,326.2 1436.6,325.1 1440.5,326.7 1441.8,327.2 1442.3,331.6 1443.5,331.3 1444.5,334 1445.4,333.8 1447.6,331.5 1449.9,332 1450.3,358.8 1451.7,360.5 1453.5,359.1 1453.9,347.2 1454.5,330 1458.4,331.4 1459.7,330.6 1461.9,332.9 1465.1,336.4 1466.4,323.1 1468.6,322.2 1470.9,319.9 1471.3,307.9 1474,307 1475.8,311.4 1479.8,310.3 1481.5,310.4 1482.5,329.5 1485.1,329.6 1489.2,327.8 1489.5,326.6 1490.5,324.5 1490.9,322.9 1493.6,326.6 1496.3,327.1 1499,328.9 1502.1,329.8 1502.5,329.4 1504.5,302.4 1504.8,302.1 1505.7,299 1507.5,299.9 1508.4,306.1 1509.7,300.8 1512.8,300.8 1513.3,313.7 1516.4,315 1517.7,304.3 1519.5,303 1520.9,303.9 1521.8,300.3 1524,298.5 1525.5,298.5" stroke="#00a000" stroke-width="1" fill="none" stroke-linejoin="round" shape-rendering="auto"/>
<path d="M14 496.5H1525" stroke="#000" stroke-width="1"/>
<path d="M13.5 818.5V33.5H1525.5V818.5H13.5" stroke="#000" stroke-width="1" fill="none"/>
<path d="M1526 818.5H1530M1526 798.5H1530M1526 778.5H1530M1526 758.5H1530M1526 737.5H1530M1526 717.5H1530M1526 697.5H1530M1526 677.5H1530M1526 657.5H1530M1526 637.5H1530M1526 617.5H1530M1526 597.5H1530M1526 576.5H1530M1526 556.5H1530M1526 536.5H1530M1526 516.5H1530M1526 496.5H1530M1526 476.5H1530M1526 456.5H1530M1526 436.5H1530M1526 415.5H1530M1526 395.5H1530M1526 375.5H1530M1526 355.5H1530M1526 335.5H1530M1526 315.5H1530M1526 295.5H1530M1526 275.5H1530M1526 254.5H1530M1526 234.5H1530M1526 214.5H1530M1526 194.5H1530M1526 174.5H1530M1526 154.5H1530M1526 134.5H1530M1526 114.5H1530M1526 93.5H1530M1526 73.5H1530M1526 53.5H1530M1526 33.5H1530M14.5 819V823M65.5 819V823M116.5 819V823M167.5 819V823M218.5 819V823M269.5 819V823M320.5 819V823M371.5 819V823M422.5 819V823M473.5 819V823M524.5 819V823M575.5 819V823M626.5 819V823M677.5 819V823M728.5 819V823M779.5 819V823M830.5 819V823M881.5 819V823M932.5 819V823M983.5 819V823M1034.5 819V823M1085.5 819V823M1136.5 819V823M1187.5 819V823M1238.5 819V823M1289.5 819V823M1340.5 819V823M1391.5 819V823M1442.5 819V823M1493.5 819V823M1525.5 819V823" stroke="#000" stroke-width="1"/>
<g font-family="Liberation Sans, sans-serif" font-size="12" fill="#000" shape-rendering="auto"><text x="1534" y="823">kr-1,600</text><text x="1534" y="803">kr-1,500</text><text x="1534" y="783">kr-1,400</text><text x="1534" y="763">kr-1,300</text><text x="1534" y="742">kr-1,200</text><text x="1534" y="722">kr-1,100</text><text x="1534" y="702">kr-1,000</text><text x="1534" y="682">kr-900</text><text x="1534" y="662">kr-800</text><text x="1534" y="642">kr-700</text><text x="1534" y="622">kr-600</text><text x="1534" y="602">kr-500</text><text x="1534" y="581">kr-400</text><text x="1534" y="561">kr-300</text><text x="1534" y="541">kr-200</text><text x="1534" y="521">kr-100</text><text x="1534" y="501">kr0</text><text x="1534" y="481">kr100</text><text x="1534" y="461">kr200</text><text x="1534" y="441">kr300</text><text x="1534" y="420">kr400</text><text x="1534" y="400">kr500</text><text x="1534" y="380">kr600</text><text x="1534" y="360">kr700</text><text x="1534" y="340">kr800</text><text x="1534" y="320">kr900</text><text x="1534" y="300">kr1,000</text><text x="1534" y="280">kr1,100</text><text x="1534" y="259">kr1,200</text><text x="1534" y="239">kr1,300</text><text x="1534" y="219">kr1,400</text><text x="1534" y="199">kr1,500</text><text x="1534" y="179">kr1,600</text><text x="1534" y="159">kr1,700</text><text x="1534" y="139">kr1,800</text><text x="1534" y="119">kr1,900</text><text x="1534" y="98">kr2,000</text><text x="1534" y="78">kr2,100</text><text x="1534" y="58">kr2,200</text><text x="1534" y="38">kr2,300</text><text x="14.5" y="835" text-anchor="middle">1</text><text x="65.5" y="835" text-anchor="middle">138</text><text x="116.5" y="835" text-anchor="middle">275</text><text x="167.5" y="835" text-anchor="middle">412</text><text x="218.5" y="835" text-anchor="middle">549</text><text x="269.5" y="835" text-anchor="middle">686</text><text x="320.5" y="835" text-anchor="middle">824</text><text x="371.5" y="835" text-anchor="middle">961</text><text x="422.5" y="835" text-anchor="middle">1,098</text><text x="473.5" y="835" text-anchor="middle">1,235</text><text x="524.5" y="835" text-anchor="middle">1,372</text><text x="575.5" y="835" text-anchor="middle">1,509</text><text x="626.5" y="835" text-anchor="middle">1,647</text><text x="677.5" y="835" text-anchor="middle">1,784</text><text x="728.5" y="835" text-anchor="middle">1,921</text><text x="779.5" y="835" text-anchor="middle">2,058</text><text x="830.5" y="835" text-anchor="middle">2,195</text><text x="881.5" y="835" text-anchor="middle">2,333</text><text x="932.5" y="835" text-anchor="middle">2,470</text><text x="983.5" y="835" text-anchor="middle">2,607</text><text x="1034.5" y="835" text-anchor="middle">2,744</text><text x="1085.5" y="835" text-anchor="middle">2,881</text><text x="1136.5" y="835" text-anchor="middle">3,018</text><text x="1187.5" y="835" text-anchor="middle">3,156</text><text x="1238.5" y="835" text-anchor="middle">3,293</text><text x="1289.5" y="835" text-anchor="middle">3,430</text><text x="1340.5" y="835" text-anchor="middle">3,567</text><text x="1391.5" y="835" text-anchor="middle">3,704</text><text x="1442.5" y="835" text-anchor="middle">3,842</text><text x="1493.5" y="835" text-anchor="middle">3,979</text><text x="1525.5" y="835" text-anchor="middle">4,066</text><text x="692" y="20" textLength="238" lengthAdjust="spacingAndGlyphs">My Currency Won in SEK over Hands Played</text><text x="732" y="853" textLength="75" lengthAdjust="spacingAndGlyphs">Hands Played</text><text transform="translate(1595,426) rotate(-90)" text-anchor="middle">kr</text></g>
<rect x="13.5" y="859.5" width="605" height="31" fill="#fff" stroke="#000" stroke-width="1"/>
<rect x="22.5" y="870.5" width="8" height="8" fill="#009900" stroke="#000" stroke-width="1"/><text x="35.2" y="879" font-family="Liberation Sans, sans-serif" font-size="12" textLength="53.4" lengthAdjust="spacingAndGlyphs" shape-rendering="auto">My C Won</text><rect x="116.5" y="870.5" width="8" height="8" fill="#999900" stroke="#000" stroke-width="1"/><text x="129.4" y="879" font-family="Liberation Sans, sans-serif" font-size="12" textLength="74.7" lengthAdjust="spacingAndGlyphs" shape-rendering="auto">My C All-In Adj</text><rect x="232.5" y="870.5" width="8" height="8" fill="#000099" stroke="#000" stroke-width="1"/><text x="245.3" y="879" font-family="Liberation Sans, sans-serif" font-size="12" textLength="152.8" lengthAdjust="spacingAndGlyphs" shape-rendering="auto">Money Won With Showdown</text><rect x="426.5" y="870.5" width="8" height="8" fill="#990000" stroke="#000" stroke-width="1"/><text x="439.7" y="879" font-family="Liberation Sans, sans-serif" font-size="12" textLength="170" lengthAdjust="spacingAndGlyphs" shape-rendering="auto">Money Won Without Showdown</text>
</svg></body></html>
